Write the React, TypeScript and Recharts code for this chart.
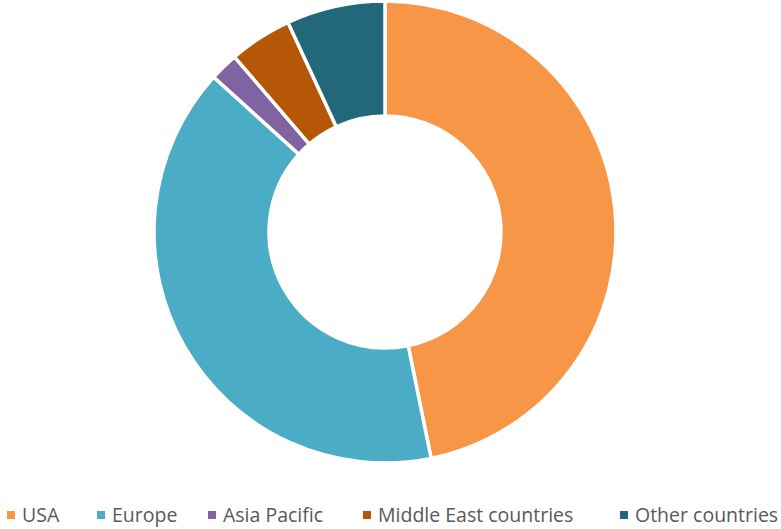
import React from 'react';
import { PieChart, Pie, Cell, Legend } from 'recharts';

const regions = ['USA', 'Europe', 'Asia Pacific', 'Middle East countries', 'Other countries'];
const shares = [46.8, 39.9, 2.0, 4.4, 6.9];
const COLORS = ['#F79646', '#4BACC6', '#8064A2', '#B65708', '#23677A'];

const data = regions.map((name, i) => ({ name, value: shares[i] }));

// left edge of each legend entry, as in the original slide
const legendX = [7, 97, 208, 363, 620];

const renderLegend = () => (
  <div
    style={{
      position: 'relative',
      height: 26,
      fontFamily: '"Open Sans", sans-serif',
      fontSize: 19.5,
      color: '#595959',
    }}
  >
    {regions.map((name, i) => (
      <div
        key={name}
        style={{
          position: 'absolute',
          left: legendX[i],
          top: 0,
          display: 'flex',
          alignItems: 'center',
          whiteSpace: 'nowrap',
          lineHeight: '26px',
        }}
      >
        <span style={{ width: 8, height: 8, background: COLORS[i], marginRight: 7, display: 'inline-block' }} />
        {name}
      </div>
    ))}
  </div>
);

export default function App() {
  return (
    <div style={{ position: 'absolute', left: 0, top: 0, width: 781, height: 529, background: '#fff' }}>
      <PieChart width={781} height={529} margin={{ top: 0, right: 0, bottom: 0, left: 0 }}>
        <Pie
          data={data}
          dataKey="value"
          nameKey="name"
          cx={385}
          cy={232}
          innerRadius={116}
          outerRadius={231}
          startAngle={90}
          endAngle={-270}
          stroke="#fff"
          strokeWidth={3.5}
          isAnimationActive={false}
        >
          {data.map((d, i) => (
            <Cell key={d.name} fill={COLORS[i]} />
          ))}
        </Pie>
        <Legend
          content={renderLegend}
          verticalAlign="bottom"
          align="left"
          wrapperStyle={{ left: 0, bottom: 1, width: 781 }}
        />
      </PieChart>
    </div>
  );
}
